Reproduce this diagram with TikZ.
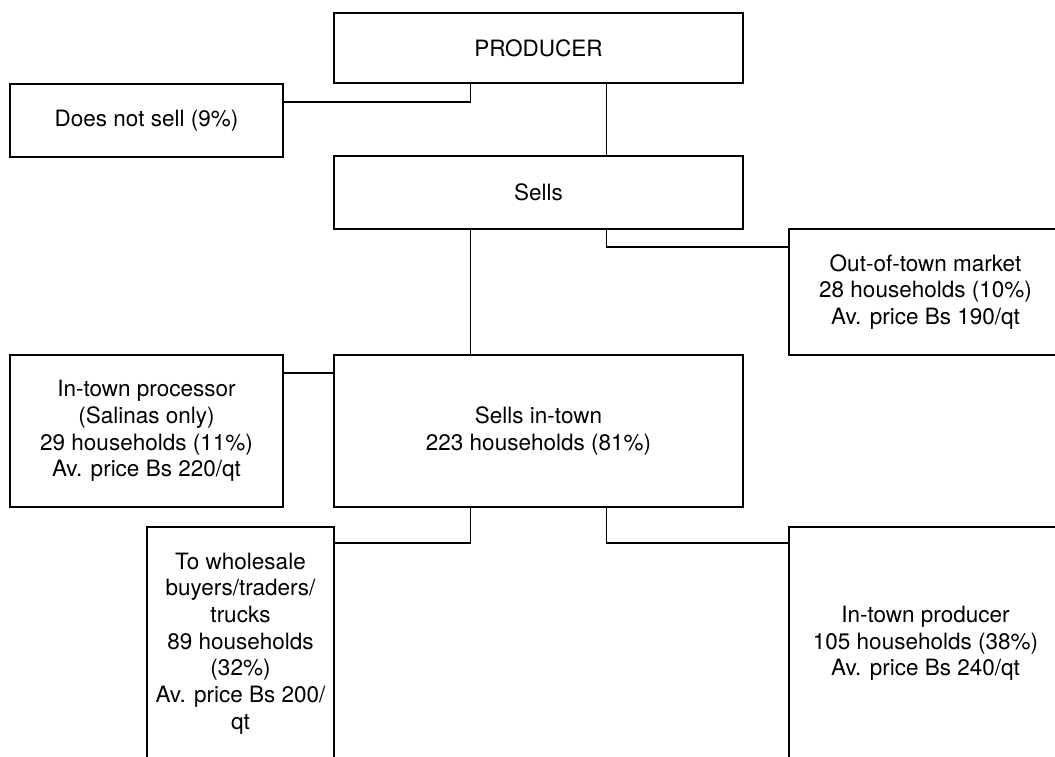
\documentclass[tikz,border=0pt]{standalone}
\usepackage{fontspec}
\setmainfont{TeX Gyre Heros}
\usetikzlibrary{calc}
\tikzset{
  box/.style={draw, line width=2.4pt, align=center, inner sep=0pt, outer sep=0pt,
    anchor=north west, font=\fontsize{22.5}{26.7}\selectfont},
  link/.style={line width=1.2pt}
}
\begin{document}
\begin{tikzpicture}[x=1pt,y=-1pt]
\useasboundingbox (0,0) rectangle (1055,756);
\clip (0,0) rectangle (1055,756);
\node[box, minimum width=409pt, minimum height=70pt] (producer) at (334,13) {PRODUCER};
\node[box, minimum width=273pt, minimum height=73pt] (notsell) at (10,84) {Does not sell (9\%)};
\node[box, minimum width=409pt, minimum height=73pt] (sells) at (334,156) {Sells};
\node[box, minimum width=273pt, minimum height=126pt] (outtown) at (789,229) {Out-of-town market\\28 households (10\%)\\Av. price Bs 190/qt};
\node[box, minimum width=273pt, minimum height=152pt] (processor) at (10,355) {In-town processor\\(Salinas only)\\29 households (11\%)\\Av. price Bs 220/qt};
\node[box, minimum width=409pt, minimum height=152pt] (intown) at (334,355) {Sells in-town\\223 households (81\%)};
\node[box, minimum width=187pt, minimum height=233pt] (wholesale) at (147,527) {To wholesale\\buyers/traders/\\trucks\\89 households\\(32\%)\\Av. price Bs 200/\\qt};
\node[box, minimum width=273pt, minimum height=233pt] (prod2) at (789,527) {In-town producer\\105 households (38\%)\\Av. price Bs 240/qt};

\draw[link] ($(producer.south west)!1/3!(producer.south east)$) |- ([yshift=-18pt]notsell.north east);
\draw[link] ($(producer.south west)!2/3!(producer.south east)$) -- ($(sells.north west)!2/3!(sells.north east)$);
\draw[link] ($(sells.south west)!1/3!(sells.south east)$) -- ($(intown.north west)!1/3!(intown.north east)$);
\draw[link] ($(sells.south west)!2/3!(sells.south east)$) |- ([yshift=-18pt]outtown.north west);
\draw[link] ([yshift=-18pt]processor.north east) -- ([yshift=-18pt]intown.north west);
\draw[link] ($(intown.south west)!1/3!(intown.south east)$) |- ([yshift=-16pt]wholesale.north east);
\draw[link] ($(intown.south west)!2/3!(intown.south east)$) |- ([yshift=-16pt]prod2.north west);
\end{tikzpicture}
\end{document}
